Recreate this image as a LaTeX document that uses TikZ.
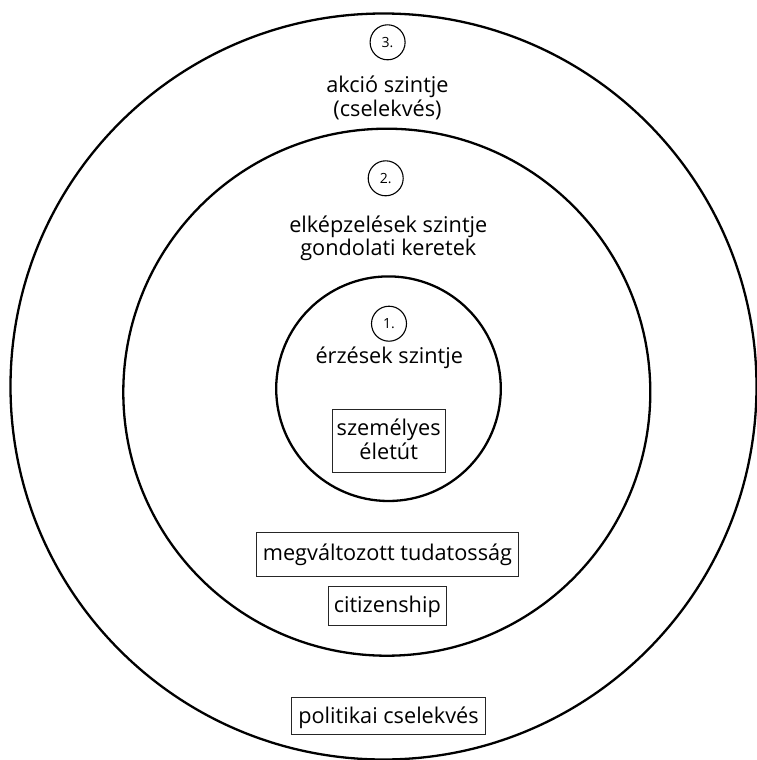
\documentclass[tikz,border=0pt]{standalone}
\usepackage{fontspec}
\setmainfont{Open Sans}
\begin{document}
\begin{tikzpicture}[x=1pt,y=-1pt,
  ring/.style={draw=black,line width=2.3pt},
  numcirc/.style={draw=black,circle,line width=1.1pt,minimum size=35pt,inner sep=0pt,font=\fontsize{14}{16}\selectfont},
  lbl/.style={align=center,inner sep=0pt,font=\fontsize{21.7}{23.5}\selectfont},
  boxed/.style={draw=black!85,line width=0.9pt,inner sep=0pt,align=center,anchor=north,font=\fontsize{21.7}{23.5}\selectfont}]
\useasboundingbox (0,0) rectangle (757,760);
\fill[white] (0,0) rectangle (757,760);
\draw[ring] (383.5,386.5) circle[radius=373];
\draw[ring] (386.8,392.2) circle[radius=263.5];
\draw[ring] (388.5,388.7) circle[radius=112.3];
\node[numcirc] (n3) at (387.6,42.3) {3.};
\node[numcirc] (n2) at (385.7,178.3) {2.};
\node[numcirc] (n1) at (389,323.7) {1.};
\node[lbl,anchor=base] (l3) at (387.5,116) {akció szintje\\(cselekvés)};
\node[lbl,anchor=base] (l2) at (388.3,255.5) {elképzelések szintje\\gondolati keretek};
\node[lbl,anchor=base] (l1) at (389.3,363) {érzések szintje};
\node[boxed,minimum width=113.5pt,text height=50.5pt,text depth=12.5pt] (b1) at (388.7,408.5) {személyes\\életút};
\node[boxed,minimum width=261.4pt,text height=28pt,text depth=16pt] (b2) at (387.5,532) {megváltozott tudatosság};
\node[boxed,minimum width=118.6pt,text height=26.5pt,text depth=12.5pt] (b3) at (387.3,585.5) {citizenship};
\node[boxed,minimum width=193.5pt,text height=26pt,text depth=10.5pt] (b4) at (388.5,697) {politikai cselekvés};
\end{tikzpicture}
\end{document}
